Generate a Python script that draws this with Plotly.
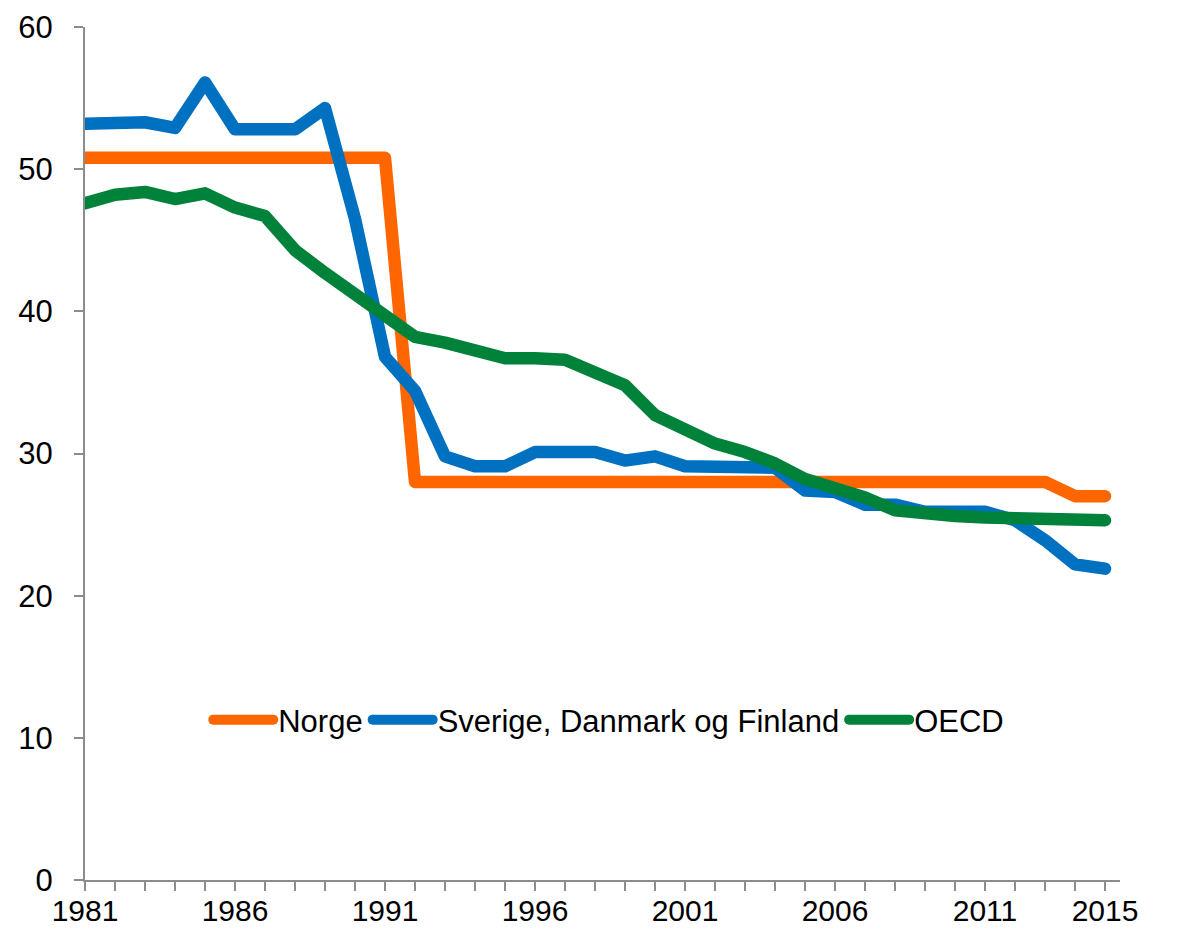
import plotly.graph_objects as go

years = [1981, 1982, 1983, 1984, 1985, 1986, 1987, 1988, 1989, 1990,
         1991, 1992, 1993, 1994, 1995, 1996, 1997, 1998, 1999, 2000,
         2001, 2002, 2003, 2004, 2005, 2006, 2007, 2008, 2009, 2010,
         2011, 2012, 2013, 2014, 2015]

norge = [50.8, 50.8, 50.8, 50.8, 50.8, 50.8, 50.8, 50.8, 50.8, 50.8,
         50.8, 28.0, 28.0, 28.0, 28.0, 28.0, 28.0, 28.0, 28.0, 28.0,
         28.0, 28.0, 28.0, 28.0, 28.0, 28.0, 28.0, 28.0, 28.0, 28.0,
         28.0, 28.0, 28.0, 27.0, 27.0]

nordic = [53.2, 53.3, 53.3, 52.9, 56.1, 52.8, 52.8, 52.8, 54.3, 46.5,
          36.8, 34.4, 29.8, 29.1, 29.1, 30.1, 30.1, 30.1, 29.5, 29.8,
          29.1, 29.1, 29.1, 29.0, 27.4, 27.3, 26.4, 26.4, 25.9, 25.9,
          25.9, 25.3, 23.9, 22.2, 21.9]

oecd = [47.6, 48.2, 48.4, 47.9, 48.3, 47.3, 46.7, 44.3, 42.7, 41.2,
        39.7, 38.2, 37.8, 37.2, 36.7, 36.7, 36.6, 35.7, 34.8, 32.7,
        31.8, 30.7, 30.1, 29.3, 28.2, 27.6, 26.9, 26.0, 25.7, 25.6,
        25.5, 25.5, 25.5, 25.3, 25.3]

series_names = ["Norge", "Sverige, Danmark og Finland", "OECD"]
series_colors = ["#FF6600", "#0070C0", "#00823B"]

xtick_labels = ["1981", "1986", "1991", "1996", "2001", "2006", "2011", "2015"]
ytick_vals = [0, 10, 20, 30, 40, 50, 60]

FONT = "Arial, Liberation Sans, sans-serif"
AXIS_COLOR = "#8C8C8C"
FS = 31

fig = go.Figure()
for name, vals, col in zip(series_names, [norge, nordic, oecd], series_colors):
    fig.add_trace(go.Scatter(x=years, y=vals, name=name, mode="lines",
                             line=dict(color=col, width=12.5)))

ticktext = [str(y) if str(y) in xtick_labels else "" for y in years]

axis_common = dict(showline=True, linecolor=AXIS_COLOR, linewidth=2,
                   ticks="outside", ticklen=9, tickwidth=2, tickcolor=AXIS_COLOR,
                   showgrid=False, zeroline=False, automargin=False,
                   tickfont=dict(size=FS, family=FONT, color="black"))

fig.update_layout(
    width=1187, height=930,
    margin=dict(l=85, r=67, t=27, b=50),
    paper_bgcolor="white", plot_bgcolor="white",
    font=dict(family=FONT, size=FS, color="black"),
    showlegend=True,
    legend=dict(orientation="h", x=0.506, y=0.1876, xanchor="center", yanchor="middle",
                bgcolor="rgba(0,0,0,0)", font=dict(size=FS, family=FONT),
                itemwidth=60, tracegroupgap=0),
    xaxis=dict(range=[1981, 2015.5], tickmode="array", tickvals=years, ticktext=ticktext,
               ticklabelstandoff=-6,
               **{**axis_common, "tickfont": dict(size=30, family=FONT, color="black")}),
    yaxis=dict(range=[0, 60], tickmode="array", tickvals=ytick_vals,
               ticklabelstandoff=15, **axis_common),
    yaxis2=dict(range=[0, 60], tickmode="array", tickvals=ytick_vals,
                overlaying="y", side="right", anchor="x",
                ticklabelstandoff=2, **axis_common),
)

post_script = """
document.body.style.margin = '0';
document.body.style.overflow = 'hidden';
var gd = document.getElementById('{plot_id}');
function fixLines(){
  gd.querySelectorAll('.scatterlayer .js-line, .legendlines path').forEach(function(p){
    p.style.strokeLinecap = 'round';
    p.style.strokeLinejoin = 'round';
  });
}
fixLines();
gd.on('plotly_afterplot', fixLines);
"""

fig.write_html("out.html", post_script=post_script, config={"displayModeBar": False})
